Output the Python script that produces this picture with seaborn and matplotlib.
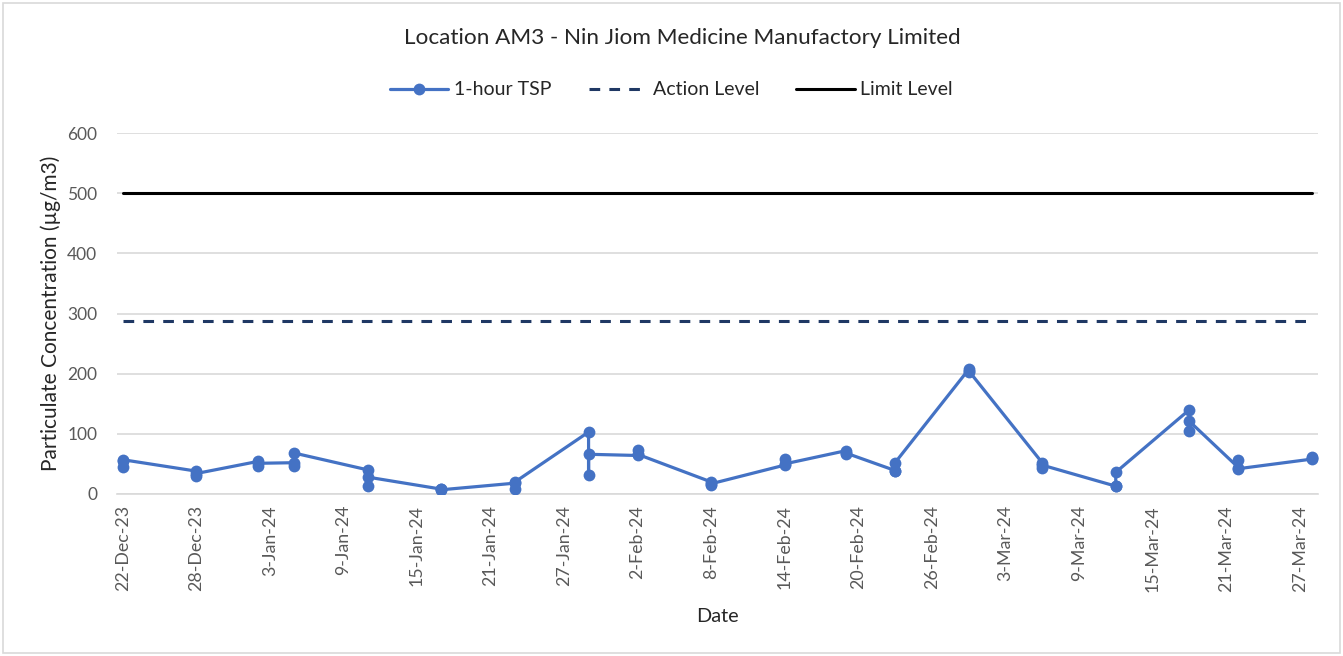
import numpy as np
import pandas as pd
import matplotlib
matplotlib.use("Agg")
import matplotlib.pyplot as plt
import matplotlib.dates as mdates
import seaborn as sns
from matplotlib.patches import Rectangle

# Monitoring dates and the three 1-hour TSP readings taken on each
dates = ["2023-12-22", "2023-12-28", "2024-01-02", "2024-01-05", "2024-01-11",
         "2024-01-17", "2024-01-23", "2024-01-29", "2024-02-02", "2024-02-08",
         "2024-02-14", "2024-02-19", "2024-02-23", "2024-02-29", "2024-03-06",
         "2024-03-12", "2024-03-18", "2024-03-22", "2024-03-28"]
tsp_1 = [45, 38, 54, 52, 40, 8, 18, 103, 64, 20, 48, 72, 39, 207, 52, 13, 140, 44, 58]
tsp_2 = [54, 30, 47, 47, 14, 8, 9, 32, 73, 15, 58, 66, 38, 202, 43, 14, 104, 57, 62]
tsp_3 = [57, 34, 51, 68, 28, 7, 20, 66, 66, 17, 50, 68, 52, 205, 48, 36, 121, 42, 60]

action_level = 288
limit_level = 500

tick_dates = ["2023-12-22", "2023-12-28", "2024-01-03", "2024-01-09", "2024-01-15",
              "2024-01-21", "2024-01-27", "2024-02-02", "2024-02-08", "2024-02-14",
              "2024-02-20", "2024-02-26", "2024-03-03", "2024-03-09", "2024-03-15",
              "2024-03-21", "2024-03-27"]
tick_labels = ["22-Dec-23", "28-Dec-23", "3-Jan-24", "9-Jan-24", "15-Jan-24",
               "21-Jan-24", "27-Jan-24", "2-Feb-24", "8-Feb-24", "14-Feb-24",
               "20-Feb-24", "26-Feb-24", "3-Mar-24", "9-Mar-24", "15-Mar-24",
               "21-Mar-24", "27-Mar-24"]

# long table: readings in the order they were taken
rows = []
for d, a, b, c in zip(dates, tsp_1, tsp_2, tsp_3):
    for v in (a, b, c):
        rows.append({"date": pd.Timestamp(d), "tsp": v})
df = pd.DataFrame(rows)
df["x"] = mdates.date2num(df["date"])

lvl = pd.DataFrame({"x": mdates.date2num(pd.to_datetime(dates))})
lvl["action"] = action_level
lvl["limit"] = limit_level

sns.set_style("white")
plt.rcParams["font.family"] = ["Lato", "DejaVu Sans"]

fig = plt.figure(figsize=(13.43, 6.56), dpi=100)
ax = fig.add_axes([0.0868, 0.247, 0.8946, 0.550])

ax.grid(axis="y", color="#D9D9D9", linewidth=1.2)
ax.set_axisbelow(True)

sns.lineplot(data=lvl, x="x", y="limit", ax=ax, color="black", linewidth=2.2,
             label="Limit Level", zorder=2)
sns.lineplot(data=lvl, x="x", y="action", ax=ax, color="#1F3864", linewidth=2.2,
             linestyle=(0, (3.5, 3)), label="Action Level", zorder=2)
sns.lineplot(data=df, x="x", y="tsp", ax=ax, sort=False, estimator=None,
             color="#4472C4", linewidth=2.3, marker="o", markersize=8.5,
             markeredgewidth=0, label="1-hour TSP", zorder=3)

x0 = mdates.date2num(pd.Timestamp(dates[0])) - 0.5
x1 = mdates.date2num(pd.Timestamp(dates[-1])) + 0.5
ax.set_xlim(x0, x1)
ax.set_ylim(0, 600)
ax.set_yticks(np.arange(0, 601, 100))

tick_pos = mdates.date2num(pd.to_datetime(tick_dates))
ax.set_xticks(tick_pos)
ax.set_xticklabels(tick_labels, rotation=90)
ax.set_xticks(tick_pos - 0.5, minor=True)
ax.tick_params(axis="x", which="major", length=0, pad=8, labelsize=12.8, labelcolor="#595959")
ax.tick_params(axis="x", which="minor", length=6, width=1.2, color="#D9D9D9", direction="out")
ax.tick_params(axis="y", length=0, pad=14, labelsize=12.5, labelcolor="#595959")

for s in ("left", "right", "top"):
    ax.spines[s].set_visible(False)
ax.spines["bottom"].set_color("#D9D9D9")
ax.spines["bottom"].set_linewidth(1.2)

ax.set_xlabel("Date", fontsize=14.3, labelpad=12)
ax.set_ylabel("Particulate Concentration (µg/m3)", fontsize=15, labelpad=4)

handles, labels = ax.get_legend_handles_labels()
order = [labels.index("1-hour TSP"), labels.index("Action Level"), labels.index("Limit Level")]
fig.legend([handles[i] for i in order], [labels[i] for i in order],
           loc="center", bbox_to_anchor=(0.5, 0.863), ncol=3, frameon=False,
           fontsize=14, handlelength=3.0, handletextpad=0.3, columnspacing=1.9)
ax.get_legend().remove()

fig.text(0.508, 0.942, "Location AM3 - Nin Jiom Medicine Manufactory Limited",
         ha="center", va="center", fontsize=16.2)

fig.patches.append(Rectangle((0.002, 0.004), 0.996, 0.992, transform=fig.transFigure,
                             fill=False, edgecolor="#D9D9D9", linewidth=1.2))

fig.savefig("out.png", dpi=100)
